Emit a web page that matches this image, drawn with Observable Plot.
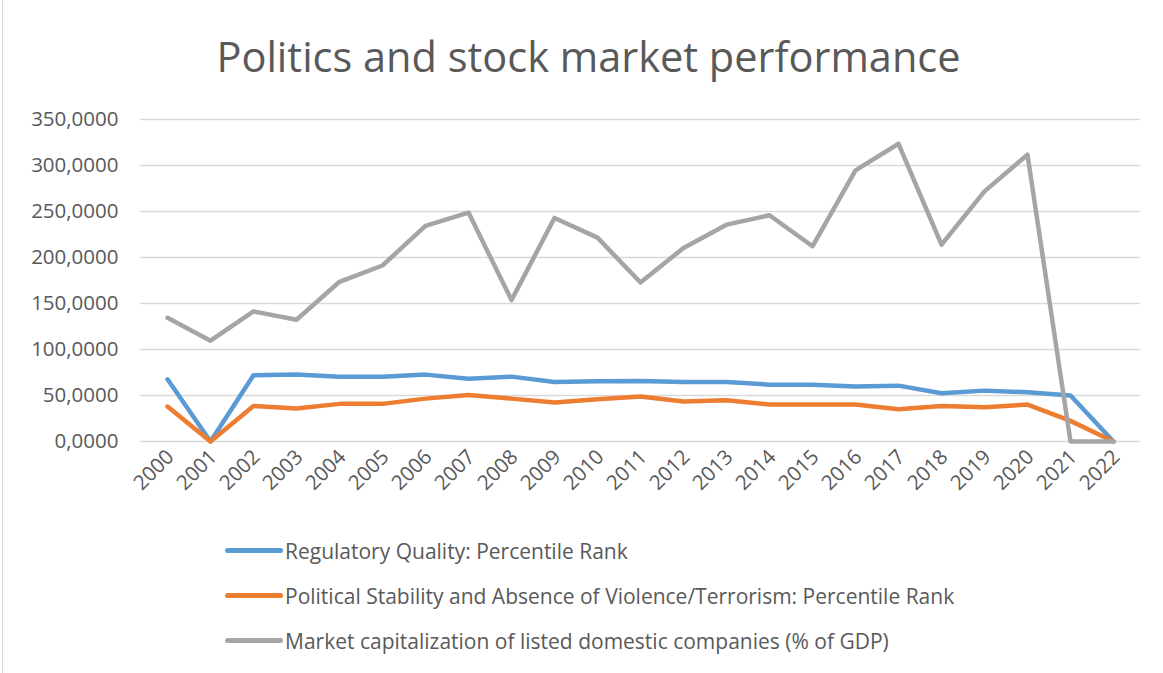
<!DOCTYPE html>
<html>
<head>
<meta charset="utf-8">
<script src="https://cdn.jsdelivr.net/npm/d3@7"></script>
<script src="https://cdn.jsdelivr.net/npm/@observablehq/plot@0.6"></script>
<style>
  html, body { margin: 0; padding: 0; background: #fff; }
  #wrap { position: relative; width: 1163px; height: 673px; overflow: hidden; font-family: "Open Sans", Lato, sans-serif; }
  #frame { position: absolute; left: 2px; top: -2px; width: 1170px; height: 690px; border: 1.5px solid #d9d9d9; box-sizing: border-box; }
  #title { position: absolute; left: 7px; width: 1163px; top: 28px; text-align: center; font-size: 41.5px; color: #595959; }
  #chart { position: absolute; left: 0; top: 0; }
  #legend { position: absolute; left: 225px; top: 528px; font-size: 21px; color: #595959; }
  .item { display: flex; align-items: center; height: 45px; }
  .sw { width: 58px; height: 5px; border-radius: 3px; margin-right: 2px; }
</style>
</head>
<body>
<div id="wrap">
  <div id="frame"></div>
  <div id="chart"></div>
  <div id="title">Politics and stock market performance</div>
  <div id="legend"></div>
</div>
<script>
const years = ["2000","2001","2002","2003","2004","2005","2006","2007","2008","2009","2010","2011","2012","2013","2014","2015","2016","2017","2018","2019","2020","2021","2022"];
const regulatoryQuality = [67.6,0,72.0,72.7,70.5,70.5,72.7,68.3,70.5,64.7,65.4,65.8,64.7,64.7,61.8,61.8,59.7,60.7,52.4,55.3,53.5,50.0,0];
const politicalStability = [38.0,0,38.7,35.8,40.9,40.9,46.6,50.6,46.6,42.3,45.9,48.8,43.4,44.8,40.1,40.1,40.1,35.1,38.7,37.2,40.1,22.4,0];
const marketCap = [134.5,109.6,141.4,132.3,173.6,191.3,234.3,248.8,153.7,243.0,221.6,172.8,210.4,235.7,245.9,212.2,294.7,323.6,214.0,271.9,311.7,0,0];
const seriesNames = [
  "Regulatory Quality: Percentile Rank",
  "Political Stability and Absence of Violence/Terrorism: Percentile Rank",
  "Market capitalization of listed domestic companies (% of GDP)"
];
const seriesColors = ["#5b9bd5", "#ed7d31", "#a5a5a5"];
const yTicks = [0,50,100,150,200,250,300,350];

const allSeries = [regulatoryQuality, politicalStability, marketCap];
const rows = [];
allSeries.forEach((vals, si) => {
  vals.forEach((v, i) => rows.push({year: years[i], value: v, series: seriesNames[si]}));
});

const chart = Plot.plot({
  width: 1163,
  height: 520,
  marginTop: 119,
  marginBottom: 79,
  marginLeft: 140,
  marginRight: 23,
  style: {fontFamily: "'Open Sans', Lato, sans-serif", color: "#595959", background: "transparent"},
  x: {type: "point", domain: years, padding: 0.5},
  y: {domain: [0, 350]},
  color: {domain: seriesNames, range: seriesColors},
  marks: [
    Plot.gridY(yTicks, {stroke: "#d9d9d9", strokeOpacity: 1, strokeWidth: 1.5}),
    Plot.axisY(yTicks, {tickSize: 0, tickPadding: 22, fontSize: 20.5, fill: "#595959", tickFormat: d => d + ",0000", label: null}),
    Plot.axisX({tickSize: 0, tickRotate: -45, fontSize: 20.5, fill: "#595959", tickPadding: 12, dx: 3, label: null}),
    Plot.line(rows, {x: "year", y: "value", z: "series", stroke: "series", strokeWidth: 4.5, strokeLinecap: "round", strokeLinejoin: "round"})
  ]
});
document.getElementById("chart").appendChild(chart);

const legend = document.getElementById("legend");
seriesNames.forEach((n, i) => {
  const d = document.createElement("div");
  d.className = "item";
  d.innerHTML = `<span class="sw" style="background:${seriesColors[i]}"></span><span>${n}</span>`;
  legend.appendChild(d);
});
</script>
</body>
</html>
